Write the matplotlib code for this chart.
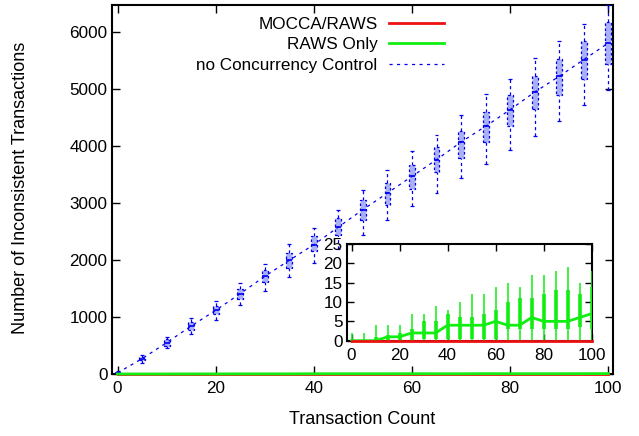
import matplotlib
matplotlib.use("Agg")
import matplotlib.pyplot as plt
import numpy as np

plt.rcParams['font.family'] = ['Liberation Sans', 'DejaVu Sans']

# ---- data ----
counts = list(range(0, 101, 5))

# no Concurrency Control (box stats)
ncc_med = [20, 270, 550, 842, 1118, 1410, 1714, 1995, 2270, 2579, 2884, 3176, 3468, 3761, 4070, 4346, 4638, 4947, 5223, 5516, 5807]
ncc_q1 = [5, 240, 491, 767, 1047, 1323, 1614, 1866, 2158, 2433, 2696, 2971, 3252, 3544, 3796, 4070, 4346, 4656, 4901, 5182, 5446]
ncc_q3 = [40, 300, 609, 912, 1188, 1498, 1831, 2123, 2416, 2744, 3059, 3351, 3673, 3982, 4263, 4597, 4901, 5228, 5533, 5842, 6175]
ncc_lo = [0, 200, 463, 697, 954, 1217, 1456, 1702, 1954, 2200, 2433, 2696, 2942, 3182, 3445, 3691, 3937, 4170, 4433, 4714, 4977]
ncc_hi = [60, 328, 650, 983, 1275, 1596, 1937, 2288, 2561, 2884, 3222, 3573, 3912, 4200, 4551, 4907, 5182, 5544, 5842, 6147, 6468]

# RAWS Only (box stats)
raws_med = [0, 0, 0, 1, 1, 2, 2, 2, 4, 4, 4, 4, 5, 4, 4, 6, 5, 5, 5, 6, 7]
raws_q1 = [0, 0, 0, 0, 0, 0, 0.5, 0.5, 0.5, 0.5, 0.5, 0.5, 0.5, 3, 3, 3, 3, 3, 3, 3.5, 3]
raws_q3 = [0, 0, 1, 1.5, 2, 3, 5, 5, 7, 6, 6, 7, 8, 10, 11, 11, 12, 13, 13, 12, 14]
raws_lo = [0] * 21
raws_hi = [2, 2, 4, 4, 4, 7, 7, 9, 8, 10, 12, 12, 14, 15, 14, 17, 17, 18, 19, 15, 18]

# MOCCA/RAWS
mocca = [0] * 21

main_xticks = [0, 20, 40, 60, 80, 100]
main_yticks = [0, 1000, 2000, 3000, 4000, 5000, 6000]
inset_yticks = [0, 5, 10, 15, 20, 25]

RED = '#ee1111'
GREEN = '#11ee11'
BLUE = '#0000ee'
LIGHTBLUE = '#aab0f6'
FS = 12.3
LFS = 13

fig = plt.figure(figsize=(6.39, 4.36), dpi=100)
ax = fig.add_axes([0.1748, 0.1422, 0.9588 - 0.1748, 0.9892 - 0.1422])

x = np.array(counts)
q1 = np.array(ncc_q1); q3 = np.array(ncc_q3)

# blue boxes
ax.bar(x, q3 - q1, bottom=q1, width=1.2, color=LIGHTBLUE, edgecolor=BLUE,
       linewidth=0.9, linestyle=(0, (2, 2)), zorder=3)
ax.vlines(x, ncc_lo, ncc_q1, colors=BLUE, linewidth=0.9, linestyles=(0, (2.5, 2.5)), zorder=3)
ax.vlines(x, ncc_q3, ncc_hi, colors=BLUE, linewidth=0.9, linestyles=(0, (2.5, 2.5)), zorder=3)
ax.hlines(ncc_lo, x - 0.4, x + 0.4, colors=BLUE, linewidth=0.9, zorder=3)
ax.hlines(ncc_hi, x - 0.4, x + 0.4, colors=BLUE, linewidth=0.9, zorder=3)
ax.hlines(ncc_med, x - 0.6, x + 0.6, colors=BLUE, linewidth=1.2, zorder=4)
ax.plot(x, ncc_med, color=BLUE, linewidth=0.9, linestyle=(0, (2.5, 3.5)), zorder=4,
        label='no Concurrency Control')

# red and green at bottom
ax.plot(x, mocca, color=RED, linewidth=2, zorder=5, label='MOCCA/RAWS', clip_on=False)
ax.plot(x, raws_med, color=GREEN, linewidth=2, zorder=5, label='RAWS Only', clip_on=False)

ax.set_xlim(-1.2, 100.9)
ax.set_ylim(0, 6480)
ax.set_xticks(main_xticks)
ax.set_yticks(main_yticks)
ax.tick_params(direction='in', top=True, right=True, labelsize=FS, length=6, width=1)
ax.tick_params(axis='y', pad=3)
ax.tick_params(axis='x', pad=5)
for s in ax.spines.values():
    s.set_linewidth(1.5)
ax.set_xlabel('Transaction Count', fontsize=LFS)
ax.set_ylabel('Number of Inconsistent Transactions', fontsize=LFS)
ax.xaxis.set_label_coords(0.5, -0.1)
ax.yaxis.set_label_coords(-0.165, 0.505)

handles, labels = ax.get_legend_handles_labels()
order = [labels.index('MOCCA/RAWS'), labels.index('RAWS Only'), labels.index('no Concurrency Control')]
leg = ax.legend([handles[i] for i in order], [labels[i] for i in order],
                loc='upper right', bbox_to_anchor=(0.695, 0.962), bbox_transform=fig.transFigure,
                markerfirst=False, frameon=False, fontsize=FS, handlelength=3.2,
                handletextpad=0.7, labelspacing=0.32, borderpad=0, borderaxespad=0)
for t in leg.get_texts():
    t.set_ha('right')

# inset
ix = fig.add_axes([0.5426, 0.2186, 0.3834, 0.2218])
ix.vlines(x, raws_lo, raws_hi, colors=GREEN, linewidth=1.1, zorder=3)
ix.vlines(x, raws_q1, raws_q3, colors=GREEN, linewidth=2.6, zorder=3)
ix.plot(x, raws_med, color=GREEN, linewidth=2, zorder=4)
ix.plot(x, mocca, color=RED, linewidth=2, zorder=5, clip_on=False)
ix.set_xlim(-2, 100)
ix.set_ylim(0, 25)
ix.set_xticks(main_xticks)
ix.set_yticks(inset_yticks)
ix.tick_params(direction='in', top=True, right=True, labelsize=FS, length=5, width=1)
ix.tick_params(axis='y', pad=3)
ix.tick_params(axis='x', pad=5)
for s in ix.spines.values():
    s.set_linewidth(1.5)

fig.savefig('out.png', dpi=100)
